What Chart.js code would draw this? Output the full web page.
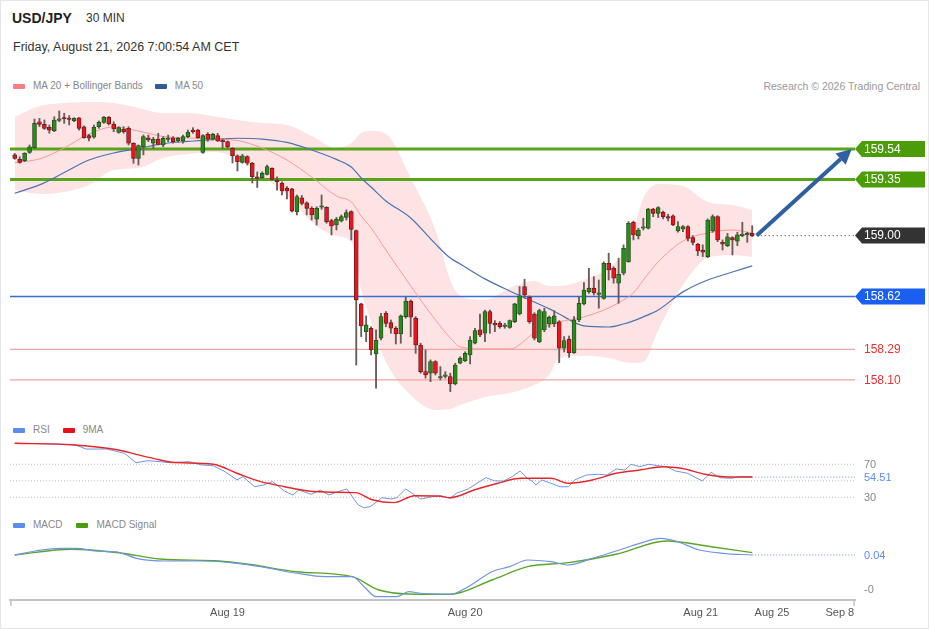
<!DOCTYPE html>
<html>
<head>
<meta charset="utf-8">
<title>USD/JPY 30 MIN</title>
<script src="https://cdn.jsdelivr.net/npm/chart.js@4.4.1/dist/chart.umd.min.js"></script>
<style>
  html, body { margin: 0; padding: 0; background: #fff; }
  body { width: 929px; height: 629px; position: relative; overflow: hidden;
         font-family: "Liberation Sans", Arial, Helvetica, sans-serif; }
  #frame { position: absolute; left: 0; top: 0; width: 927px; height: 627px; border: 1px solid #e3e7eb; }
  .txt { position: absolute; white-space: nowrap; line-height: 1; }
  .legend { position: absolute; white-space: nowrap; font-size: 10px; line-height: 12px; color: #888;
            display: flex; align-items: center; }
  .sw { display: inline-block; width: 12px; height: 5px; border-radius: 1px; margin-right: 8px; }
  canvas { position: absolute; left: 0; }
</style>
</head>
<body>
<div id="frame"></div>

<div class="txt" style="left:12px;top:11px;font-size:14px;font-weight:bold;color:#222;">USD/JPY</div>
<div class="txt" style="left:86px;top:12px;font-size:12px;color:#333;">30 MIN</div>
<div class="txt" style="left:13px;top:41px;font-size:12.5px;color:#333;">Friday, August 21, 2026 7:00:54 AM CET</div>

<div class="legend" style="left:13px;top:80px;">
  <span class="sw" style="background:#f77f7f"></span>MA 20 + Bollinger Bands
  <span class="sw" style="background:#2f5a9c;margin-left:12px"></span>MA 50
</div>
<div class="txt" style="right:9px;top:81px;font-size:10.5px;color:#9a9a9a;">Research © 2026 Trading Central</div>

<div class="legend" style="left:13px;top:424px;">
  <span class="sw" style="background:#5b8def"></span>RSI
  <span class="sw" style="background:#e8101a;margin-left:13px"></span>9MA
</div>
<div class="legend" style="left:13px;top:519px;">
  <span class="sw" style="background:#5b8def"></span>MACD
  <span class="sw" style="background:#4a9c10;margin-left:14px"></span>MACD Signal
</div>

<canvas id="price" width="929" height="314" style="top:98px;width:929px;height:314px;"></canvas>
<canvas id="rsi" width="929" height="78" style="top:437px;width:929px;height:78px;"></canvas>
<canvas id="macd" width="929" height="96" style="top:533px;width:929px;height:96px;"></canvas>

<script>
// 30 minute candles, index 0..149 (left to right)
const opens = [
  159.503,159.476,159.467,159.519,159.548,159.710,159.694,159.675,159.654,159.718,
  159.735,159.729,159.716,159.735,159.679,159.623,159.613,159.679,159.706,159.738,
  159.694,159.644,159.663,159.669,159.576,159.482,159.554,159.610,159.576,159.602,
  159.565,159.600,159.610,159.590,159.590,159.617,159.654,159.658,159.519,159.632,
  159.602,159.623,159.596,159.586,159.544,159.498,159.457,159.492,159.451,159.367,
  159.361,159.382,159.420,159.347,159.326,159.295,159.291,159.149,159.236,159.205,
  159.170,159.102,159.177,159.177,159.093,159.066,159.091,159.114,159.149,159.031,
  158.574,158.401,158.422,158.262,158.360,158.516,158.457,158.422,158.387,158.495,
  158.592,158.485,158.318,158.152,158.142,158.214,158.112,158.122,158.121,158.075,
  158.204,158.220,158.256,158.329,158.412,158.391,158.526,158.453,158.453,158.433,
  158.428,158.463,158.511,158.682,158.615,158.511,158.339,158.412,158.449,158.449,
  158.463,158.298,158.354,158.270,158.474,158.574,158.650,158.672,158.633,158.609,
  158.827,158.796,158.703,158.765,158.837,159.083,159.000,159.046,159.046,159.166,
  159.139,159.145,159.118,159.124,159.029,159.041,159.056,158.987,158.946,158.910,
  158.869,159.029,159.118,158.958,158.937,158.987,158.966,159.000,159.004,159.014
];
const highs = [
  159.513,159.492,159.517,159.565,159.727,159.731,159.721,159.690,159.741,159.777,
  159.763,159.748,159.735,159.736,159.685,159.632,159.690,159.715,159.743,159.743,
  159.710,159.679,159.679,159.679,159.579,159.565,159.627,159.627,159.613,159.638,
  159.617,159.627,159.617,159.613,159.627,159.658,159.673,159.663,159.629,159.642,
  159.638,159.638,159.602,159.590,159.548,159.503,159.507,159.498,159.457,159.397,
  159.398,159.440,159.423,159.367,159.336,159.305,159.295,159.253,159.250,159.211,
  159.180,159.180,159.253,159.180,159.102,159.114,159.129,159.160,159.155,159.035,
  158.578,158.499,158.432,158.412,158.516,158.526,158.474,158.432,158.505,158.615,
  158.599,158.495,158.329,158.287,158.225,158.220,158.183,158.152,158.142,158.204,
  158.245,158.276,158.370,158.422,158.511,158.536,158.536,158.470,158.464,158.453,
  158.474,158.578,158.682,158.728,158.624,158.519,158.541,158.547,158.499,158.532,
  158.470,158.370,158.374,158.495,158.619,158.707,158.796,158.744,158.723,158.837,
  158.890,158.806,158.859,158.942,159.087,159.091,159.046,159.108,159.170,159.170,
  159.180,159.153,159.133,159.129,159.087,159.062,159.062,159.000,158.952,158.942,
  159.104,159.129,159.124,158.973,159.014,158.993,159.021,159.083,159.021,159.062
];
const lows = [
  159.476,159.451,159.461,159.513,159.544,159.679,159.663,159.638,159.648,159.710,
  159.700,159.690,159.710,159.658,159.607,159.590,159.607,159.669,159.700,159.690,
  159.648,159.638,159.638,159.565,159.451,159.440,159.503,159.586,159.544,159.565,
  159.554,159.586,159.576,159.582,159.576,159.610,159.638,159.607,159.513,159.588,
  159.596,159.586,159.544,159.544,159.453,159.403,159.451,159.440,159.328,159.300,
  159.353,159.378,159.347,159.284,159.253,159.228,159.147,159.129,159.191,159.129,
  159.097,159.066,159.164,159.077,159.004,159.035,159.085,159.097,158.973,158.193,
  158.370,158.339,158.256,158.048,158.349,158.432,158.391,158.324,158.329,158.485,
  158.370,158.266,158.142,158.111,158.089,158.131,158.100,158.111,158.027,158.069,
  158.200,158.214,158.200,158.324,158.370,158.339,158.391,158.401,158.422,158.422,
  158.422,158.457,158.505,158.609,158.453,158.349,158.332,158.401,158.428,158.432,
  158.208,158.274,158.241,158.266,158.463,158.567,158.640,158.630,158.547,158.603,
  158.723,158.703,158.578,158.755,158.834,158.973,158.979,159.035,159.041,159.118,
  159.112,159.104,159.091,159.062,159.021,159.024,158.966,158.942,158.875,158.869,
  158.862,159.021,158.962,158.910,158.931,158.879,158.937,158.993,158.958,158.993
];
const closes = [
  159.482,159.457,159.513,159.554,159.700,159.694,159.669,159.658,159.721,159.724,
  159.727,159.724,159.731,159.669,159.610,159.607,159.675,159.706,159.738,159.696,
  159.665,159.673,159.648,159.576,159.482,159.561,159.617,159.596,159.600,159.569,
  159.607,159.604,159.586,159.607,159.617,159.644,159.648,159.610,159.623,159.602,
  159.632,159.590,159.586,159.554,159.498,159.461,159.498,159.451,159.367,159.357,
  159.389,159.430,159.351,159.336,159.278,159.278,159.153,159.243,159.201,159.170,
  159.129,159.170,159.183,159.087,159.060,159.102,159.118,159.143,159.039,158.599,
  158.437,158.443,158.287,158.349,158.495,158.453,158.422,158.387,158.499,158.592,
  158.491,158.318,158.152,158.131,158.214,158.142,158.121,158.128,158.075,158.193,
  158.235,158.266,158.349,158.407,158.380,158.526,158.453,158.443,158.432,158.440,
  158.470,158.574,158.624,158.630,158.463,158.360,158.532,158.526,158.491,158.499,
  158.298,158.345,158.270,158.474,158.578,158.661,158.672,158.644,158.639,158.827,
  158.786,158.734,158.759,158.921,159.077,159.004,159.035,159.052,159.166,159.139,
  159.174,159.118,159.108,159.066,159.056,159.056,158.983,158.958,158.904,158.896,
  159.097,159.118,158.973,158.946,158.993,158.973,159.004,159.008,159.014,159.000
];

// moving averages and Bollinger bands, read at these candle indexes
const bandIdx = [0,5,10,15,20,25,30,35,40,45,50,55,60,65,68,70,72,75,80,85,88,90,95,100,105,108,110,115,120,123,125,127,130,135,140,145,149];
const bbUpper = [159.740,159.808,159.827,159.833,159.827,159.796,159.764,159.764,159.746,159.721,159.702,159.690,159.621,159.546,159.577,159.640,159.652,159.634,159.359,159.035,158.723,158.624,158.599,158.673,158.717,158.686,158.686,158.723,158.798,158.898,159.035,159.235,159.322,159.309,159.210,159.191,159.160];
const bbLower = [159.284,159.259,159.272,159.316,159.409,159.422,159.484,159.509,159.521,159.484,159.372,159.253,159.085,158.998,158.960,158.661,158.462,158.212,158.006,157.913,157.919,157.944,157.994,158.019,158.069,158.131,158.237,158.250,158.237,158.212,158.206,158.212,158.412,158.692,158.860,158.879,158.867];
const ma20 = [159.455,159.478,159.546,159.634,159.677,159.652,159.618,159.609,159.602,159.593,159.546,159.471,159.365,159.247,159.210,159.122,159.048,158.910,158.686,158.474,158.362,158.306,158.293,158.293,158.393,158.443,158.462,158.493,158.549,158.599,158.642,158.723,158.836,158.966,159.016,159.035,159.016];
const ma50 = [159.264,159.316,159.393,159.471,159.515,159.543,159.574,159.587,159.599,159.607,159.602,159.581,159.534,159.475,159.428,159.359,159.303,159.216,159.110,158.948,158.860,158.823,158.730,158.655,158.586,158.543,158.511,158.437,158.430,158.449,158.468,158.493,158.536,158.649,158.723,158.773,158.811];

// horizontal levels, last price and the projection arrow
const levels = [159.54, 159.35, 158.62, 158.29, 158.10];
const lastPrice = 159.00;
const arrowFrom = [149.9, 159.00];
const arrowTo = [169.1, 159.54];

// RSI panel
const rsiIdx = [0,12,14.4,18.6,22.2,24.5,26.9,31.7,35.3,37.7,40.1,42.5,44.9,46.1,48.5,50.3,52.1,54.5,56.2,57.4,59.9,61.7,63.5,65.3,67.1,68.2,69.4,70.6,71.8,73,74.2,76,77.2,79,80.8,82,84.4,86.2,88,89.2,91.6,93.4,95.2,97,98.8,100.5,102.1,103.6,104.7,105.3,106.5,108.3,110.2,111.9,113.1,115.5,117.9,119.7,121.5,123.3,124.5,126.3,128.1,129.9,131.7,133.5,135.9,138.9,140.7,142.4,144.8,146.6,148.4,149];
const rsiVal = [95.5,94.2,88.5,88.5,83.3,71.9,74.4,71.9,73.2,69.2,68.3,61.0,51.0,55.0,42.8,44.9,48.9,37.6,32.8,38.8,33.6,38.8,32.8,36.8,40.1,30.7,20.7,17.4,18.6,23.9,29.5,27.9,29.5,40.1,32.8,27.9,30.7,31.6,28.8,34.8,40.1,47.0,53.8,49.8,49.8,55.0,61.9,53.0,48.9,44.9,51.0,47.0,42.8,42.8,51.0,57.0,57.9,57.0,64.3,63.1,70.0,67.1,70.0,68.3,67.1,61.9,59.1,49.8,60.3,53.8,53.0,55.0,55.0,54.51];
const rsiMaIdx = [0,12,21,24.5,29.4,31.7,40.1,44.9,49.7,54.5,59.3,64.1,68.8,72.4,76.6,80.8,85.6,88,92.8,97.6,102.3,108.3,111.9,116.7,121.5,126.3,131.1,134.7,139.5,144.2,149];
const rsiMaVal = [95.5,93.4,87.3,82.1,75.2,72.4,70.0,59.1,48.9,42.8,37.6,36.1,35.6,26.7,23.5,31.9,31.6,29.5,38.8,47.0,53.0,53.0,47.0,51.0,59.1,63.1,67.1,65.2,57.9,54.6,54.51];
const rsiGuides = [70, 50, 30];
const rsiLast = 54.51;

// MACD panel
const macdIdx = [0,4.2,9,12.6,16.2,21,24.6,30.5,37.7,44.9,49.7,56.9,62.8,68.2,70.6,73,77.2,79.6,82,88,91.6,96.4,100,103.6,108.3,111.9,116.7,121.5,126.3,130.5,133.5,138.3,143,149];
const macdVal = [0.040,0.0518,0.0597,0.0597,0.0518,0.0479,0.0303,0.0224,0.0224,0.0156,0.0056,-0.0138,-0.0238,-0.0238,-0.0532,-0.0826,-0.0826,-0.0679,-0.0726,-0.0756,-0.0532,-0.0091,0.0056,0.0253,0.0203,0.0106,0.0303,0.0518,0.0744,0.0891,0.0812,0.0547,0.0450,0.040];
const sigIdx = [0,11.4,21,29.4,41.3,47.3,56.9,68.2,73.6,79.6,88,96.4,103.6,111.9,121.5,131.7,140.7,149];
const sigVal = [0.040,0.0568,0.0468,0.0282,0.0224,0.0126,-0.0091,-0.0238,-0.0629,-0.0747,-0.0756,-0.0335,0.0056,0.0174,0.0421,0.0812,0.0644,0.0468];
const macdLast = 0.04;
const macdLow = -0.06;

// time axis
const tickIdx = [43, 91, 138.6, 153, 166.7];
const tickText = ['Aug 19', 'Aug 20', 'Aug 21', 'Aug 25', 'Sep 8'];

// ---------------------------------------------------------------

const FONT = '"Liberation Sans", Arial, Helvetica, sans-serif';
Chart.defaults.font.family = FONT;

const X_MIN = -0.95, X_MAX = 169.76;

const levelLook = [
  { line: '#58a41a', width: 3, tag: '#4c9c08' },
  { line: '#58a41a', width: 3, tag: '#4c9c08' },
  { line: '#3a6cd6', width: 1.4, tag: '#1b5ff2' },
  { line: '#f4a3a3', width: 1.2, text: '#ef2f2f' },
  { line: '#f4a3a3', width: 1.2, text: '#ef2f2f' }
];

function pts(xs, ys) {
  return xs.map((x, k) => ({ x: x, y: ys[k] }));
}

function flat(x0, x1, v) {
  return [{ x: x0, y: v }, { x: x1, y: v }];
}

function line(label, data, color, width, extra) {
  return Object.assign({
    type: 'line', label: label, data: data,
    borderColor: color, borderWidth: width,
    pointRadius: 0, fill: false, tension: 0
  }, extra || {});
}

function baseOptions(yMin, yMax) {
  return {
    responsive: false,
    animation: false,
    events: [],
    layout: { padding: { left: 10, right: 74, top: 0, bottom: 0 } },
    plugins: {
      legend: { display: false },
      tooltip: { enabled: false },
      filler: { drawTime: 'beforeDatasetsDraw' }
    },
    scales: {
      x: { type: 'linear', min: X_MIN, max: X_MAX, offset: false, display: false },
      y: { type: 'linear', min: yMin, max: yMax, display: false }
    }
  };
}

// right hand price tag with a small notch pointing at the line
function drawTag(ctx, yPix, text, bg) {
  ctx.save();
  ctx.fillStyle = bg;
  ctx.beginPath();
  ctx.moveTo(855, yPix);
  ctx.lineTo(862, yPix - 8);
  ctx.lineTo(925, yPix - 8);
  ctx.lineTo(925, yPix + 8);
  ctx.lineTo(862, yPix + 8);
  ctx.closePath();
  ctx.fill();
  ctx.fillStyle = '#fff';
  ctx.font = '12px ' + FONT;
  ctx.textBaseline = 'middle';
  ctx.fillText(text, 864, yPix + 0.5);
  ctx.restore();
}

function drawSideText(ctx, yPix, text, color, size) {
  ctx.save();
  ctx.fillStyle = color;
  ctx.font = size + 'px ' + FONT;
  ctx.textBaseline = 'middle';
  ctx.fillText(text, 864, yPix + 0.5);
  ctx.restore();
}

// ---------- price panel ----------
const candleIdx = closes.map((c, i) => i);
const rising = closes.map((c, i) => c >= opens[i]);

const priceMarks = {
  id: 'priceMarks',
  afterDatasetsDraw(chart) {
    const { ctx, scales: { x, y } } = chart;
    const x0 = x.getPixelForValue(arrowFrom[0]), y0 = y.getPixelForValue(arrowFrom[1]);
    const x1 = x.getPixelForValue(arrowTo[0]), y1 = y.getPixelForValue(arrowTo[1]);
    const a = Math.atan2(y1 - y0, x1 - x0);
    const head = 15, half = 7.5;
    const bx = x1 - head * Math.cos(a), by = y1 - head * Math.sin(a);
    ctx.save();
    ctx.strokeStyle = '#2f609f';
    ctx.fillStyle = '#2f609f';
    ctx.lineWidth = 4;
    ctx.beginPath();
    ctx.moveTo(x0, y0);
    ctx.lineTo(bx, by);
    ctx.stroke();
    ctx.beginPath();
    ctx.moveTo(x1, y1);
    ctx.lineTo(bx + half * Math.sin(a), by - half * Math.cos(a));
    ctx.lineTo(bx - half * Math.sin(a), by + half * Math.cos(a));
    ctx.closePath();
    ctx.fill();
    ctx.restore();
  },
  afterDraw(chart) {
    const { ctx, scales: { y } } = chart;
    levels.forEach((v, k) => {
      const look = levelLook[k];
      if (look.tag) drawTag(ctx, y.getPixelForValue(v), v.toFixed(2), look.tag);
      else drawSideText(ctx, y.getPixelForValue(v), v.toFixed(2), look.text, 12);
    });
    drawTag(ctx, y.getPixelForValue(lastPrice), lastPrice.toFixed(2), '#333333');
  }
};

const priceSets = [
  {
    type: 'bar', label: 'body',
    data: candleIdx.map(i => ({ x: i, y: [opens[i], closes[i]] })),
    backgroundColor: rising.map(r => r ? '#2a8a1e' : '#e8151d'),
    borderColor: rising.map(r => r ? '#1f4a16' : '#5e1b1b'),
    borderWidth: 0.8, borderSkipped: false,
    barThickness: 4, minBarLength: 1.5, grouped: false, order: 1
  },
  {
    type: 'bar', label: 'wick',
    data: candleIdx.map(i => ({ x: i, y: [lows[i], highs[i]] })),
    backgroundColor: '#6b5b5b', borderWidth: 0,
    barThickness: 1.2, grouped: false, order: 2
  },
  line('last', flat(arrowFrom[0], X_MAX, lastPrice), '#333', 1, { borderDash: [1, 3], order: 3 }),
  line('MA 20', pts(bandIdx, ma20), '#f59a9a', 1, { cubicInterpolationMode: 'monotone', order: 4 }),
  line('MA 50', pts(bandIdx, ma50), '#4b73b3', 1.2, { cubicInterpolationMode: 'monotone', order: 4 })
];
levels.forEach((v, k) => {
  priceSets.push(line('level', flat(X_MIN, X_MAX, v), levelLook[k].line, levelLook[k].width, { order: 5 }));
});
priceSets.push(line('BB upper', pts(bandIdx, bbUpper), 'rgba(0,0,0,0)', 0, {
  fill: '+1', backgroundColor: 'rgba(252,216,216,0.72)', cubicInterpolationMode: 'monotone', order: 6
}));
priceSets.push(line('BB lower', pts(bandIdx, bbLower), 'rgba(0,0,0,0)', 0, {
  cubicInterpolationMode: 'monotone', order: 6
}));

new Chart(document.getElementById('price'), {
  type: 'line',
  data: { datasets: priceSets },
  options: baseOptions(157.900, 159.858),
  plugins: [priceMarks]
});

// ---------- RSI panel ----------
const rsiSets = [
  line('RSI', pts(rsiIdx, rsiVal), '#6f94e6', 1, { order: 1 }),
  line('9MA', pts(rsiMaIdx, rsiMaVal), '#e8262a', 1.4, { cubicInterpolationMode: 'monotone', order: 0 }),
  line('last', flat(149, X_MAX, rsiLast), '#6f94e6', 1, { borderDash: [1, 2], order: 2 })
];
rsiGuides.forEach(g => {
  rsiSets.push(line('guide', flat(X_MIN, X_MAX, g), '#bdbdbd', 1, { borderDash: [1, 2], order: 3 }));
});

new Chart(document.getElementById('rsi'), {
  type: 'line',
  data: { datasets: rsiSets },
  options: baseOptions(8.5, 103.1),
  plugins: [{
    id: 'rsiLabels',
    afterDraw(chart) {
      const { ctx, scales: { y } } = chart;
      drawSideText(ctx, y.getPixelForValue(70), '70', '#888', 11);
      drawSideText(ctx, y.getPixelForValue(30), '30', '#888', 11);
      drawSideText(ctx, y.getPixelForValue(rsiLast), rsiLast.toFixed(2), '#5b8def', 11);
    }
  }]
});

// ---------- MACD panel + time axis ----------
const macdOptions = baseOptions(-0.0924, 0.1047);
macdOptions.scales.x = {
  type: 'linear', min: X_MIN, max: X_MAX, offset: false,
  grid: { display: false, drawTicks: false },
  border: { display: true, color: '#c4c4c4', width: 2 },
  afterBuildTicks: scale => { scale.ticks = tickIdx.map(v => ({ value: v })); },
  afterFit: scale => { scale.height = 29; },
  ticks: {
    autoSkip: false, maxRotation: 0, padding: 6,
    color: '#555', font: { size: 11 },
    callback: (v, k) => tickText[k]
  }
};

new Chart(document.getElementById('macd'), {
  type: 'line',
  data: {
    datasets: [
      line('MACD', pts(macdIdx, macdVal), '#6f94e6', 1.2, { cubicInterpolationMode: 'monotone', order: 0 }),
      line('MACD Signal', pts(sigIdx, sigVal), '#5aa62a', 1.4, { cubicInterpolationMode: 'monotone', order: 1 }),
      line('last', flat(149, X_MAX, macdLast), '#6f94e6', 1, { borderDash: [1, 2], order: 2 })
    ]
  },
  options: macdOptions,
  plugins: [{
    id: 'macdLabels',
    afterDraw(chart) {
      const { ctx, chartArea, scales: { y } } = chart;
      drawSideText(ctx, y.getPixelForValue(macdLast), macdLast.toFixed(2), '#5b8def', 11);
      drawSideText(ctx, y.getPixelForValue(macdLow), '-0', '#888', 11);
      // little end caps on the time axis
      ctx.save();
      ctx.strokeStyle = '#c4c4c4';
      ctx.lineWidth = 1.5;
      ctx.beginPath();
      ctx.moveTo(chartArea.left + 1, chartArea.bottom);
      ctx.lineTo(chartArea.left + 1, chartArea.bottom + 6);
      ctx.moveTo(chartArea.right - 1, chartArea.bottom);
      ctx.lineTo(chartArea.right - 1, chartArea.bottom + 6);
      ctx.stroke();
      ctx.restore();
    }
  }]
});
</script>
</body>
</html>
